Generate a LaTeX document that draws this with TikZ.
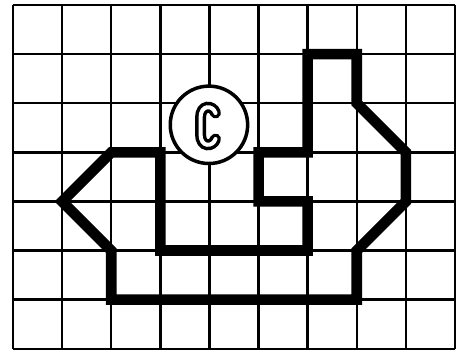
\documentclass[tikz,border=0pt]{standalone}
\tikzset{
  gridline/.style={line width=1.2pt, black},
  outline/.style={line width=5.3pt, black, line join=miter},
  ring/.style={circle, draw=black, fill=white, line width=1.75pt, minimum size=38.7pt, inner sep=0pt},
  hollowC/.style={double=white, double distance=2pt, line width=1.75pt, line cap=round, black}
}
\begin{document}
\begin{tikzpicture}[x=0.5pt,y=-0.5pt]
\useasboundingbox (0,0) rectangle (464,350);
\fill[white] (0,0) rectangle (464,350);
\begin{scope}[shift={(13,5)}, x=24.555pt, y=-24.55pt]
  \foreach \i in {0,...,9} \draw[gridline] (\i,0) -- (\i,7);
  \foreach \j in {0,...,7} \draw[gridline] (0,\j) -- (9,\j);
  \draw[outline] (1,4) -- (2,3) -- (3,3) -- (3,5) -- (6,5) -- (6,4) -- (5,4) -- (5,3)
     -- (6,3) -- (6,1) -- (7,1) -- (7,2) -- (8,3) -- (8,4) -- (7,5) -- (7,6) -- (2,6) -- (2,5) -- cycle;
  \node[ring] (ring) at (3.99,2.44) {};
\end{scope}
\draw[hollowC] (215.5,113) .. controls (213,105) and (200.5,104) .. (200.5,118) -- (200.5,134)
   .. controls (200.5,148) and (213,147) .. (215.5,139);
\end{tikzpicture}
\end{document}
